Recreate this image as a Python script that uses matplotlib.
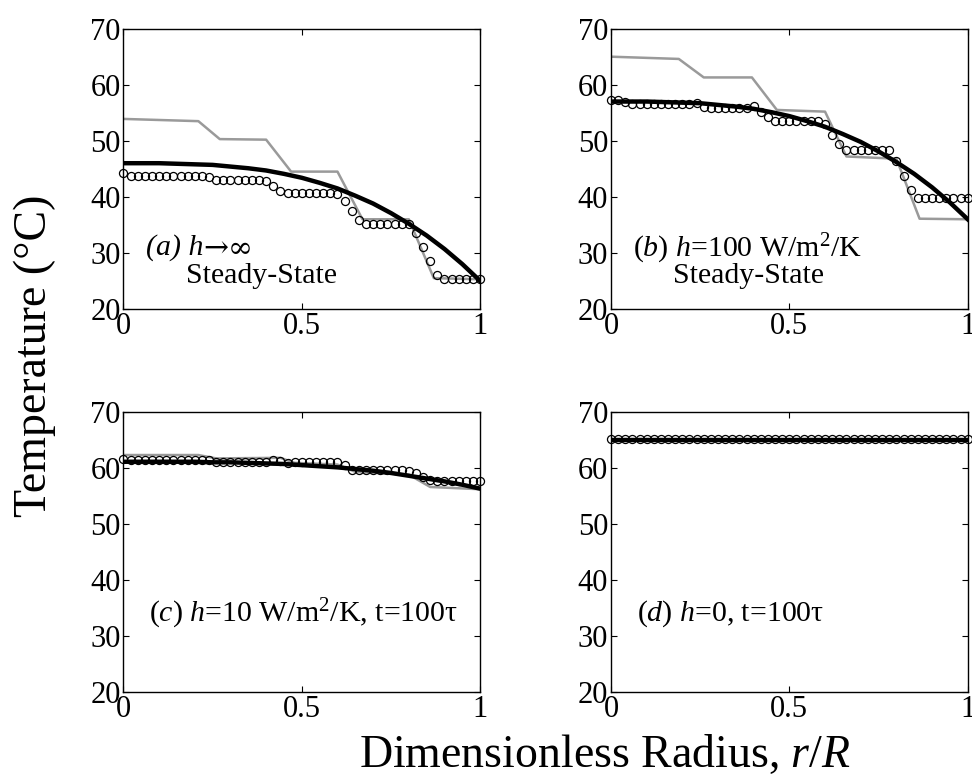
import numpy as np
import matplotlib
matplotlib.use('Agg')
import matplotlib.pyplot as plt

plt.rcParams['font.family'] = ['Liberation Serif', 'DejaVu Sans']
plt.rcParams['mathtext.fontset'] = 'custom'
plt.rcParams['mathtext.rm'] = 'Liberation Serif'
plt.rcParams['mathtext.it'] = 'Liberation Serif:italic'

# radius positions
r_line = [0.0, 0.05, 0.1, 0.15, 0.2, 0.25, 0.3, 0.35, 0.4, 0.45, 0.5,
          0.55, 0.6, 0.65, 0.7, 0.75, 0.8, 0.85, 0.9, 0.95, 1.0]
r_pts = [i * 0.02 for i in range(51)]

# (a) h -> inf, steady state
a_line = [46.0, 46.0, 46.0, 45.9, 45.8, 45.7, 45.4, 45.1, 44.7, 44.1, 43.4,
          42.5, 41.5, 40.2, 38.8, 37.1, 35.2, 33.1, 30.7, 28.0, 25.0]
a_pts = ([44.2] + [43.8] * 11 + [43.6] + [43.0] * 7 + [42.9, 42.0, 41.0]
         + [40.7] * 7 + [40.5, 39.3, 37.5, 35.8] + [35.2] * 7
         + [33.5, 31.0, 28.5, 26.0] + [25.3] * 6)
a_step_r = [0.0, 0.21, 0.27, 0.40, 0.47, 0.60, 0.67, 0.80, 0.87, 1.0]
a_step_T = [53.9, 53.5, 50.3, 50.2, 44.5, 44.5, 36.0, 36.0, 25.5, 25.3]

# (b) h = 100, steady state
b_line = [57.0, 57.0, 57.0, 56.9, 56.8, 56.7, 56.4, 56.1, 55.7, 55.1, 54.4,
          53.5, 52.5, 51.2, 49.8, 48.1, 46.2, 44.1, 41.7, 39.0, 36.0]
b_pts = ([57.2, 57.3, 57.0, 56.6, 56.5] + [56.5] * 6 + [56.6, 56.7, 56.1]
         + [55.9] * 6 + [56.2, 55.2, 54.2] + [53.6] * 7 + [53.0, 51.0, 49.5]
         + [48.4] * 7 + [46.4, 43.8, 41.3] + [39.8] * 8)
b_step_r = [0.0, 0.19, 0.26, 0.395, 0.465, 0.60, 0.66, 0.80, 0.865, 1.0]
b_step_T = [65.0, 64.6, 61.3, 61.3, 55.5, 55.2, 47.2, 46.8, 36.1, 36.0]

# (c) h = 10, t = 100 tau
c_line = [61.1, 61.1, 61.1, 61.1, 61.1, 61.0, 61.0, 60.9, 60.8, 60.7, 60.5,
          60.3, 60.1, 59.8, 59.5, 59.1, 58.6, 58.1, 57.6, 57.0, 56.3]
c_pts = ([61.6] + [61.4] * 12 + [61.1] * 8 + [61.4, 61.2, 60.9] + [61.0] * 7
         + [60.5] + [59.7] * 8 + [59.5, 59.1, 58.4, 57.8] + [57.6] * 7)
c_step_r = [0.0, 0.21, 0.26, 0.44, 0.48, 0.60, 0.65, 0.80, 0.86, 1.0]
c_step_T = [62.3, 62.3, 61.7, 61.8, 60.9, 60.6, 59.3, 58.8, 56.6, 56.2]

# (d) h = 0, t = 100 tau
d_line = [65.0] * 21
d_pts = [65.2] * 51
d_step_r = [0.0, 1.0]
d_step_T = [65.0, 65.0]

labels = [
    [(0.062, 30.9, '(a) h'), (0.174, 25.9, 'Steady-State')],
    [(0.062, 30.7, r'$\mathit{(b)}$ $\mathit{h}$=100 W/m$^2$/K'), (0.174, 25.9, 'Steady-State')],
    [(0.073, 34.0, r'$\mathit{(c)}$ $\mathit{h}$=10 W/m$^2$/K, t=100τ')],
    [(0.073, 34.0, r'$\mathit{(d)}$ $\mathit{h}$=0, t=100τ')],
]

panels = [
    (a_step_r, a_step_T, a_line, a_pts),
    (b_step_r, b_step_T, b_line, b_pts),
    (c_step_r, c_step_T, c_line, c_pts),
    (d_step_r, d_step_T, d_line, d_pts),
]

fig = plt.figure(figsize=(9.72, 7.83), dpi=100)
rects = [[0.127, 0.6054, 0.367, 0.358], [0.6286, 0.6054, 0.367, 0.358],
         [0.127, 0.1160, 0.367, 0.358], [0.6286, 0.1160, 0.367, 0.358]]

axes = []
for rect, (sr, sT, ln, pts), txt in zip(rects, panels, labels):
    ax = fig.add_axes(rect)
    ax.plot(sr, sT, color='#9a9a9a', lw=1.8, zorder=2)
    ax.plot(r_line, ln, color='black', lw=3.2, zorder=3)
    ax.plot(r_pts, pts, 'o', mfc='none', mec='black', ms=5.8, mew=0.9,
            zorder=4, clip_on=False)
    ax.set_xlim(0, 1)
    ax.set_ylim(20, 70)
    ax.set_xticks([0, 0.5, 1])
    ax.set_xticklabels(['0', '0.5', '1'])
    ax.set_yticks([20, 30, 40, 50, 60, 70])
    ax.tick_params(direction='in', top=True, right=True, length=4,
                   width=0.8, labelsize=22, pad=2)
    for s in ax.spines.values():
        s.set_linewidth(1.0)
    axes.append(ax)

# panel annotations
for ax, txt in zip(axes, labels):
    for i, (x, y, t) in enumerate(txt):
        style = 'italic' if t == '(a) h' else 'normal'
        tx = ax.text(x, y, t, fontsize=21.5, va='center', ha='left', style=style)
        if t == '(a) h':
            ax.annotate('→∞', xy=(1.0, 0.45), xycoords=tx, fontsize=21.5,
                        va='center', ha='left', family=['DejaVu Serif'])

fig.text(0.036, 0.545, 'Temperature (°C)', rotation=90, fontsize=33,
         ha='center', va='center')
fig.text(0.622, 0.036, r'Dimensionless Radius, $\mathit{r/R}$', fontsize=33,
         ha='center', va='center')

fig.savefig('out.png', dpi=100)
